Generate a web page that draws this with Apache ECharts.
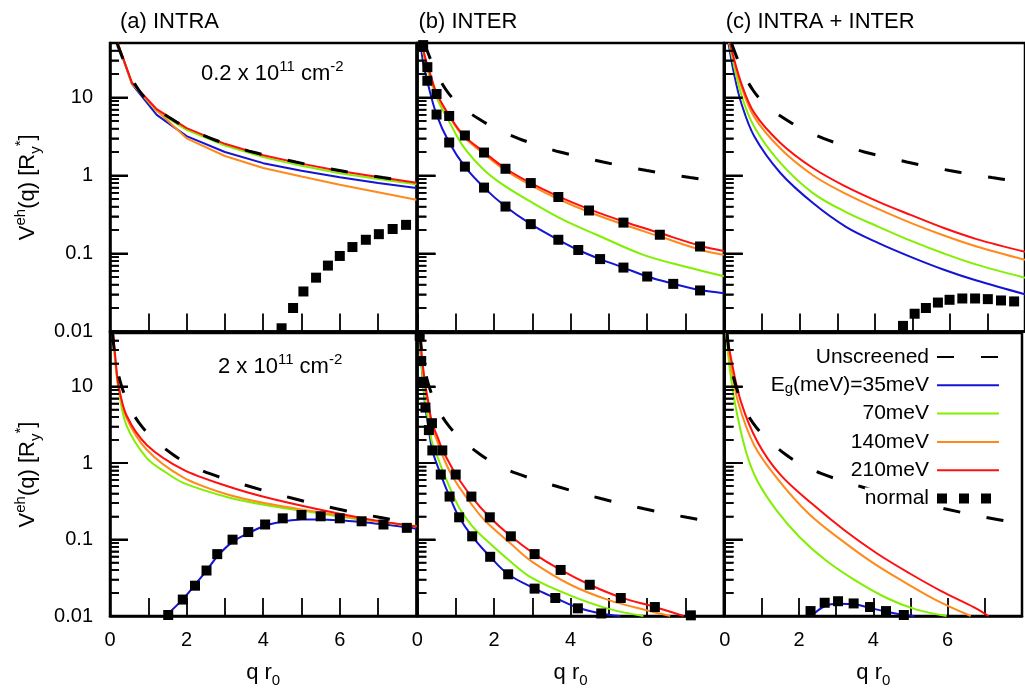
<!DOCTYPE html>
<html>
<head>
<meta charset="utf-8">
<script src="https://cdn.jsdelivr.net/npm/echarts@6/dist/echarts.min.js"></script>
<style>
html,body{margin:0;padding:0;background:#fff;}
#chart{width:1025px;height:689px;}
</style>
</head>
<body>
<div id="chart"></div>
<script>
// ---------------- data (x = q r0, y = V^eh(q) in Ry*) ----------------
const yMajor = [0.01, 0.1, 1, 10];
const yMinor = [0.02,0.03,0.04,0.05,0.06,0.07,0.08,0.09,0.2,0.3,0.4,0.5,0.6,0.7,0.8,0.9,2,3,4,5,6,7,8,9,20,30,40];
const panelTitles = ['(a) INTRA', '(b) INTER', '(c) INTRA + INTER'];
const densityTop = '0.2 x 10';
const densityBot = '2 x 10';
const legendNames = ['Unscreened', 'Eg(meV)=35meV', '70meV', '140meV', '210meV', 'normal'];

const unscrTop = [[0.18,50],[0.33,32],[0.5,20.2],[0.76,12.3],[1.0,8.9],[1.3,6.7],[1.61,5.3],[2.0,4.1],[2.63,3.0],[3.0,2.58],[3.72,2.0],[4.3,1.72],[4.85,1.49],[5.4,1.31],[5.99,1.16],[6.5,1.05],[7.12,0.94],[7.6,0.87],[8.0,0.82]];
const unscrBot = [[0.065,50],[0.15,21],[0.3,10.2],[0.5,5.6],[0.74,3.45],[1.1,2.14],[1.65,1.28],[2.0,1.0],[2.59,0.73],[3.7,0.485],[4.79,0.343],[5.92,0.252],[7.03,0.195],[8.0,0.16]];

// (a) INTRA, 0.2e11
const aTopBlue   = [[0.2,50],[0.57,15.0],[1.22,6.0],[2,3.2],[3,2.0],[4,1.44],[5,1.15],[6,0.95],[7,0.8],[8,0.69]];
const aTopGreen  = [[0.2,50],[0.57,15.2],[1.22,6.7],[2,3.85],[3,2.42],[4,1.72],[5,1.33],[6,1.07],[7,0.9],[8,0.77]];
const aTopOrange = [[0.2,50],[0.57,15.3],[1.22,6.8],[2,3.0],[3,1.78],[4,1.25],[5,0.97],[6,0.76],[7,0.61],[8,0.49]];
const aTopRed    = [[0.2,50],[0.57,15.6],[1.22,7.1],[2,4.05],[3,2.55],[4,1.82],[5,1.42],[6,1.14],[7,0.96],[8,0.81]];
const aTopNormal = [[4.48,0.011],[4.78,0.020],[5.05,0.0326],[5.38,0.049],[5.69,0.070],[6.0,0.093],[6.33,0.121],[6.68,0.150],[7.02,0.177],[7.38,0.206],[7.73,0.233]];

// (b) INTER, 0.2e11
const bTopBlue   = [[0.08,50],[0.15,28],[0.26,16],[0.5,6.05],[0.83,2.65],[1.24,1.30],[1.74,0.70],[2.3,0.40],[2.96,0.238],[3.68,0.150],[4.2,0.111],[4.77,0.0848],[5.38,0.066],[6.0,0.0507],[6.68,0.041],[7.38,0.034],[8.0,0.031]];
const bTopGreen  = [[0.1,50],[0.2,30],[0.33,17.5],[0.5,10],[0.85,4.7],[1.2,2.35],[1.74,1.18],[2.24,0.76],[3.03,0.44],[3.81,0.27],[4.68,0.174],[5.9,0.096],[7.03,0.067],[8.0,0.051]];
const bTopOrange = [[0.12,50],[0.2,32],[0.33,19.5],[0.5,11.0],[0.85,5.5],[1.2,3.15],[1.72,1.93],[2.29,1.17],[2.94,0.76],[3.68,0.50],[4.48,0.34],[5.38,0.235],[6.33,0.165],[7.38,0.112],[8.0,0.096]];
const bTopRed    = [[0.12,50],[0.2,33],[0.33,20.5],[0.5,11.4],[0.85,5.7],[1.2,3.3],[1.72,2.03],[2.29,1.24],[2.94,0.81],[3.68,0.54],[4.48,0.37],[5.38,0.257],[6.33,0.183],[7.38,0.126],[8.0,0.108]];
const bTopNormal = [[0.15,47],[0.26,24.5],[0.5,11.1],[0.83,5.8],[1.24,3.26],[1.74,1.97],[2.3,1.22],[2.96,0.80],[3.68,0.53],[4.48,0.356],[5.38,0.249],[6.33,0.174],[7.38,0.123],
                    [0.26,16.4],[0.5,6.05],[0.83,2.65],[1.24,1.30],[1.74,0.70],[2.3,0.40],[2.96,0.238],[3.68,0.150],[4.2,0.111],[4.77,0.0848],[5.38,0.066],[6.0,0.0507],[6.68,0.0408],[7.38,0.0336]];

// (c) INTRA + INTER, 0.2e11
const cTopBlue   = [[0.1,50],[0.25,20],[0.44,8.5],[0.79,3.16],[1.49,1.07],[2.36,0.44],[3.23,0.22],[4.1,0.136],[4.97,0.09],[5.84,0.062],[6.71,0.045],[8.0,0.030]];
const cTopGreen  = [[0.12,50],[0.44,11],[0.79,4.2],[1.49,1.44],[2.36,0.59],[3.23,0.34],[4.1,0.22],[4.97,0.145],[5.84,0.10],[6.71,0.072],[8.0,0.049]];
const cTopOrange = [[0.13,50],[0.44,14],[0.79,5.6],[1.49,2.2],[2.36,1.0],[3.23,0.58],[4.1,0.37],[4.97,0.245],[5.84,0.17],[6.71,0.123],[8.0,0.083]];
const cTopRed    = [[0.14,50],[0.44,15.3],[0.79,6.3],[1.49,2.6],[2.36,1.24],[3.23,0.72],[4.1,0.46],[4.97,0.31],[5.84,0.212],[6.71,0.153],[8.0,0.105]];
const cTopNormal = [[4.75,0.0118],[5.06,0.0169],[5.36,0.020],[5.68,0.0235],[5.99,0.0255],[6.33,0.0265],[6.67,0.0265],[7.01,0.026],[7.36,0.025],[7.71,0.0243]];

// (a) INTRA, 2e11
const aBotBlue   = [[1.45,0.01],[1.9,0.0165],[2.2,0.025],[2.5,0.038],[2.8,0.06],[3.2,0.093],[3.6,0.12],[4.0,0.148],[4.5,0.172],[5.0,0.182],[5.5,0.183],[6.0,0.178],[6.5,0.17],[7.0,0.16],[7.5,0.15],[8.0,0.138]];
const aBotGreen  = [[0.08,50],[0.13,23],[0.22,9.2],[0.43,3.1],[0.96,1.16],[1.48,0.74],[1.91,0.55],[3.05,0.36],[4.09,0.28],[5.4,0.222],[6.7,0.178],[8.0,0.15]];
const aBotOrange = [[0.08,50],[0.13,25],[0.22,10],[0.43,3.9],[0.96,1.49],[1.91,0.65],[3.05,0.39],[4.09,0.295],[5.4,0.23],[6.7,0.18],[8.0,0.148]];
const aBotRed    = [[0.08,50],[0.13,27],[0.22,10.5],[0.43,4.2],[0.96,1.72],[1.91,0.82],[3.05,0.50],[4.09,0.353],[5.4,0.25],[6.7,0.186],[8.0,0.148]];
const aBotNormal = [[1.52,0.0103],[1.9,0.0164],[2.22,0.0249],[2.52,0.0393],[2.8,0.0644],[3.2,0.0995],[3.61,0.125],[4.05,0.157],[4.51,0.189],[5.0,0.209],[5.5,0.201],[6.0,0.189],[6.57,0.173],[7.14,0.157],[7.75,0.142]];

// (b) INTER, 2e11
const bBotBlue   = [[0.05,50],[0.1,21.5],[0.146,11.5],[0.21,5.3],[0.30,2.69],[0.39,1.46],[0.61,0.706],[0.84,0.364],[1.09,0.195],[1.43,0.110],[1.9,0.0594],[2.37,0.0351],[3.06,0.0228],[3.6,0.0172],[4.19,0.0128],[4.8,0.0108],[5.3,0.01]];
const bBotGreen  = [[0.05,50],[0.1,22],[0.15,11.5],[0.21,6],[0.3,3.2],[0.39,1.8],[0.54,1.15],[0.61,0.92],[0.885,0.43],[1.11,0.25],[1.43,0.15],[1.76,0.102],[2.4,0.053],[3.0,0.0312],[4.0,0.0185],[5.0,0.0124],[5.9,0.01]];
const bBotOrange = [[0.06,50],[0.12,22],[0.2,10],[0.28,5.8],[0.38,3.0],[0.54,1.8],[0.65,1.27],[0.885,0.706],[1.11,0.47],[1.41,0.29],[1.76,0.177],[2.44,0.088],[3.0,0.051],[4.0,0.0256],[5.0,0.0161],[6.0,0.0118],[6.6,0.01]];
const bBotRed    = [[0.06,50],[0.12,24],[0.2,11],[0.28,6.5],[0.38,3.4],[0.54,2.1],[0.65,1.5],[0.885,0.9],[1.0,0.706],[1.41,0.364],[1.89,0.195],[2.44,0.110],[3.06,0.0644],[3.74,0.040],[4.5,0.0256],[5.31,0.0175],[6.2,0.0131],[6.95,0.01]];
const bBotNormal = [[0.06,46],[0.1,21.5],[0.146,11.5],[0.21,5.3],[0.30,2.69],[0.39,1.46],[0.61,0.706],[0.84,0.364],[1.09,0.195],[1.43,0.110],[1.9,0.0594],[2.37,0.0351],[3.06,0.0228],[3.6,0.0172],[4.19,0.0126],[4.8,0.0108],
                    [0.38,3.31],[0.65,1.46],[1.0,0.706],[1.41,0.364],[1.89,0.195],[2.44,0.110],[3.06,0.0644],[3.74,0.040],[4.5,0.0256],[5.31,0.0172],[6.2,0.0131],[7.14,0.0102]];

// (c) INTRA + INTER, 2e11
const cBotBlue   = [[2.33,0.01],[2.7,0.0135],[3.05,0.0145],[3.5,0.0142],[3.9,0.0128],[4.35,0.0114],[4.9,0.0102],[5.1,0.01]];
const cBotGreen  = [[0.04,50],[0.12,20],[0.27,6.25],[0.57,1.42],[0.88,0.58],[1.4,0.238],[2.01,0.108],[2.71,0.054],[3.49,0.0297],[4.36,0.0172],[5.14,0.0122],[5.97,0.01]];
const cBotOrange = [[0.05,50],[0.16,20],[0.36,6.25],[0.79,1.72],[1.4,0.64],[2.27,0.215],[3.14,0.098],[4.01,0.0487],[4.88,0.0269],[5.66,0.0164],[6.62,0.01]];
const cBotRed    = [[0.06,50],[0.18,22],[0.44,6.25],[0.88,1.9],[1.49,0.71],[2.36,0.29],[3.23,0.131],[4.1,0.0656],[4.97,0.0362],[5.84,0.021],[6.71,0.013],[7.1,0.01]];
const cBotNormal = [[2.31,0.0116],[2.69,0.0149],[3.05,0.0156],[3.47,0.0146],[3.91,0.0131],[4.34,0.0116],[4.82,0.0103]];

// ---------------- styling / layout ----------------
const FONT = '"Liberation Sans", Arial, Helvetica, sans-serif';
const COLORS = { blue: '#1414d2', green: '#80f000', orange: '#ff8a1c', red: '#ff1010' };
const colLeft = [110, 417.4, 724.7];
const colWidth = 306.4;
const rowTop = [43, 333];
const rowHeight = [288.5, 287];
const X_MAX = 8;
const MAJOR_LEN = 18, MINOR_LEN = 9;
const PX_PER_UNIT = colWidth / X_MAX;

const panels = [
  { unscr: unscrTop, blue: aTopBlue, green: aTopGreen, orange: aTopOrange, red: aTopRed, normal: aTopNormal, smooth: false },
  { unscr: unscrTop, blue: bTopBlue, green: bTopGreen, orange: bTopOrange, red: bTopRed, normal: bTopNormal, smooth: 0.35 },
  { unscr: unscrTop, blue: cTopBlue, green: cTopGreen, orange: cTopOrange, red: cTopRed, normal: cTopNormal, smooth: 0.35 },
  { unscr: unscrBot, blue: aBotBlue, green: aBotGreen, orange: aBotOrange, red: aBotRed, normal: aBotNormal, smooth: 0.3 },
  { unscr: unscrBot, blue: bBotBlue, green: bBotGreen, orange: bBotOrange, red: bBotRed, normal: bBotNormal, smooth: 0.35 },
  { unscr: unscrBot, blue: cBotBlue, green: cBotGreen, orange: cBotOrange, red: cBotRed, normal: cBotNormal, smooth: 0.35 }
];

const richMain = {
  m:   { fontSize: 22, fontFamily: FONT, color: '#000', lineHeight: 30 },
  sup: { fontSize: 15, fontFamily: FONT, color: '#000', lineHeight: 14, verticalAlign: 'top' },
  sub: { fontSize: 15, fontFamily: FONT, color: '#000', lineHeight: 14, verticalAlign: 'bottom' }
};

function fmtDecade(v) {
  const e = Math.round(Math.log10(v));
  return e >= 0 ? String(Math.pow(10, e)) : Math.pow(10, e).toFixed(-e);
}

// y tick marks (decades long, 2..9 short) drawn through each panel's log y scale
function tickMarkLines() {
  const maj = yMajor.map(v => [
    { coord: [0, v], lineStyle: { color: '#000', width: 2, type: 'solid' } },
    { coord: [MAJOR_LEN / PX_PER_UNIT, v] }
  ]);
  const min = yMinor.map(v => [
    { coord: [0, v], lineStyle: { color: '#000', width: 1.6, type: 'solid' } },
    { coord: [MINOR_LEN / PX_PER_UNIT, v] }
  ]);
  return {
    symbol: ['none', 'none'], animation: false,
    label: { show: false },
    lineStyle: { color: '#000', width: 1.6, type: 'solid' },
    data: maj.concat(min)
  };
}
function tickScatter(i, values, len, width) {
  return {
    type: 'scatter', name: legendNames[0], xAxisIndex: i, yAxisIndex: i,
    data: values.map(v => [0, v]),
    symbol: 'rect', symbolSize: [len, width], symbolOffset: [len / 2, 0],
    itemStyle: { color: '#000', opacity: 1 }, clip: false, z: 6, animation: false
  };
}

const grids = [], xAxes = [], yAxes = [], series = [], tickList = [];
for (let i = 0; i < 6; i++) {
  const col = i % 3, row = Math.floor(i / 3);
  grids.push({
    left: colLeft[col], top: rowTop[row], width: colWidth, height: rowHeight[row],
    show: true, borderColor: '#000', borderWidth: 2.5, containLabel: false
  });
  xAxes.push({
    type: 'value', gridIndex: i, min: 0, max: X_MAX, interval: 1,
    axisLine: { show: true, lineStyle: { color: '#000', width: 2.5 } },
    axisTick: { show: true, inside: true, length: 18, lineStyle: { color: '#000', width: 1.8 } },
    axisLabel: {
      show: row === 1, margin: 14, fontSize: 20, fontFamily: FONT, color: '#000',
      formatter: v => (v % 2 === 0 && v < 8) ? String(v) : ''
    },
    splitLine: { show: false },
    name: row === 1 ? '{m|q r}{sub|0}' : '',
    nameLocation: 'middle', nameGap: 42,
    nameTextStyle: { rich: richMain }
  });
  yAxes.push({
    type: 'log', gridIndex: i, min: 0.01, max: 50,
    axisLine: { show: true, lineStyle: { color: '#000', width: 2.5 } },
    axisTick: { show: true, inside: true, length: MAJOR_LEN, customValues: yMajor.slice(),
                lineStyle: { color: '#000', width: 2 } },
    axisLabel: {
      show: col === 0, customValues: yMajor.slice(), margin: 17, fontSize: 20, fontFamily: FONT, color: '#000',
      formatter: fmtDecade
    },
    splitLine: { show: false },
    name: col === 0 ? '{m|V}{sup|eh}{m|(q) [R}{sub|y}{sup|*}{m|]}' : '',
    nameLocation: 'middle', nameGap: 67, nameRotate: 90,
    nameTextStyle: { rich: richMain }
  });

  const p = panels[i];
  const mk = (name, data, color) => ({
    type: 'line', name, data, xAxisIndex: i, yAxisIndex: i,
    symbol: 'none', showSymbol: false, smooth: p.smooth,
    lineStyle: { color, width: 2 }, itemStyle: { color }, animation: false
  });
  const blue = mk(legendNames[1], p.blue, COLORS.blue);
  blue.markLine = tickMarkLines();
  series.push(blue);
  series.push(mk(legendNames[2], p.green, COLORS.green));
  series.push(mk(legendNames[3], p.orange, COLORS.orange));
  series.push(mk(legendNames[4], p.red, COLORS.red));
  series.push({
    type: 'line', name: legendNames[0], data: p.unscr, xAxisIndex: i, yAxisIndex: i,
    symbol: 'none', showSymbol: false, smooth: 0.35,
    lineStyle: { color: '#000', width: 3, type: [17, 27] }, itemStyle: { color: '#000' }, animation: false
  });
  series.push({
    type: 'scatter', name: legendNames[5], data: p.normal, xAxisIndex: i, yAxisIndex: i,
    symbol: 'rect', symbolSize: 10, itemStyle: { color: '#000', opacity: 1 }, animation: false, z: 3
  });
  tickList.push(tickScatter(i, yMajor, MAJOR_LEN, 2));
  tickList.push(tickScatter(i, yMinor, MINOR_LEN, 1.6));
}
tickList.forEach(s => series.push(s));

const graphics = [];
panelTitles.forEach((t, c) => {
  graphics.push({ type: 'text', left: colLeft[c] + (c === 0 ? 10 : 1), top: 11,
    style: { text: t, fontSize: 22, fontFamily: FONT, fill: '#000' } });
});
graphics.push({ type: 'text', left: 201, top: 59,
  style: { text: '{m|' + densityTop + '}{sup|11}{m| cm}{sup|-2}', rich: richMain } });
graphics.push({ type: 'text', left: 218, top: 352,
  style: { text: '{m|' + densityBot + '}{sup|11}{m| cm}{sup|-2}', rich: richMain } });

const squaresIcon = 'path://M0,0h0.1v0.1h-0.1zM0,2h10v10h-10zM22,2h10v10h-10zM44,2h10v10h-10zM61.9,13.9h0.1v0.1h-0.1z';

const option = {
  backgroundColor: '#fff',
  animation: false,
  grid: grids, xAxis: xAxes, yAxis: yAxes, series,
  graphic: graphics,
  legend: {
    orient: 'vertical', align: 'right', right: 20, top: 341,
    itemWidth: 62, itemHeight: 14, itemGap: 6.3,
    selectedMode: false,
    data: [
      { name: legendNames[0], itemStyle: { opacity: 0 } },
      { name: legendNames[1], itemStyle: { opacity: 0 } },
      { name: legendNames[2], itemStyle: { opacity: 0 } },
      { name: legendNames[3], itemStyle: { opacity: 0 } },
      { name: legendNames[4], itemStyle: { opacity: 0 } },
      { name: legendNames[5], icon: squaresIcon, itemStyle: { opacity: 1, color: '#000' } }
    ],
    formatter: name => name.indexOf('Eg') === 0
      ? '{t|E}{s|g}{t|' + name.slice(2) + '}'
      : '{t|' + name + '}',
    textStyle: {
      color: '#000', fontFamily: FONT, fontSize: 21, backgroundColor: '#fff', padding: [0, 3, 0, 0],
      rich: {
        t: { fontSize: 21, fontFamily: FONT, color: '#000', lineHeight: 22 },
        s: { fontSize: 15, fontFamily: FONT, color: '#000', lineHeight: 10, verticalAlign: 'bottom' }
      }
    }
  }
};

const chart = echarts.init(document.getElementById('chart'), null, { renderer: 'canvas' });
chart.setOption(option);
</script>
</body>
</html>
